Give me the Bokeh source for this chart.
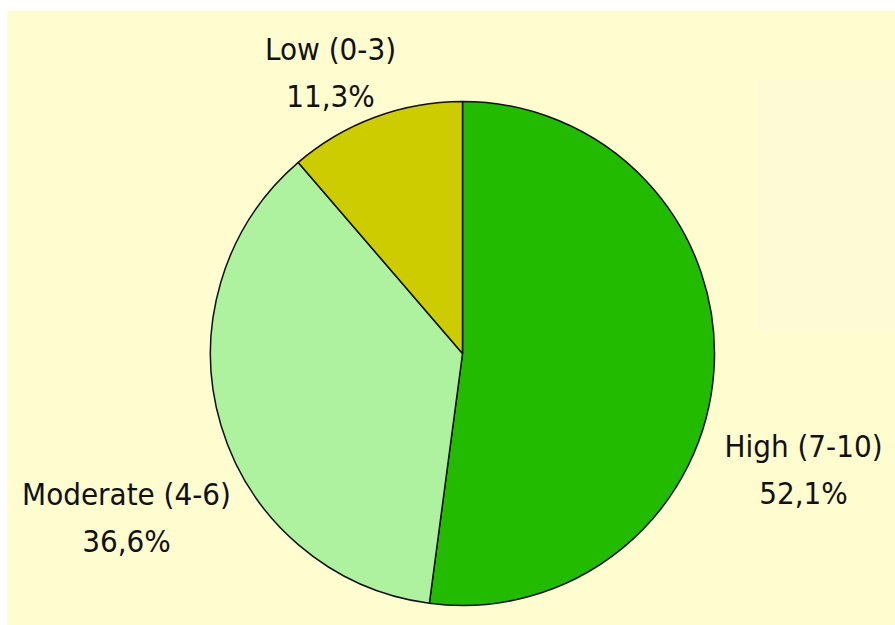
import math
from bokeh.plotting import figure
from bokeh.models import Range1d, ColumnDataSource
from bokeh.core.properties import value
from bokeh.embed import file_html
from bokeh.resources import INLINE

# ---- data ----
categories = ["High (7-10)", "Moderate (4-6)", "Low (0-3)"]
shares = [52.1, 36.6, 11.3]
pct_labels = ["52,1%", "36,6%", "11,3%"]
colors = ["#22BB00", "#AEF2A0", "#CCCC00"]

# ---- layout (pixel space, y measured downward from top of window) ----
W, H = 895, 625
LEFT, TOP = 7, 10
CX, CY, R = 462, 353, 252
label_pos = {"High (7-10)": (803, 445), "Moderate (4-6)": (126, 493), "Low (0-3)": (330, 48)}
LINE_GAP = 47
FONT = value("DejaVu Sans Condensed, Noto Sans, sans-serif")

def ty(y_pix):
    return H - y_pix

p = figure(width=W, height=H, output_backend="svg", toolbar_location=None,
           x_range=Range1d(LEFT, W), y_range=Range1d(0, H - TOP),
           x_axis_location=None, y_axis_location=None,
           min_border_left=LEFT, min_border_top=TOP, min_border_right=0, min_border_bottom=0)
p.grid.visible = False
p.outline_line_color = None
p.background_fill_color = "#FFFCD0"
p.border_fill_color = "#FFFFFF"

# faint lighter panel at right
p.quad(left=[757], right=[W], bottom=[ty(330)], top=[ty(78)], fill_color="#FFFAD6",
       line_color=None)

total = sum(shares)
starts, ends = [], []
cum = 0.0
for s in shares:
    starts.append(math.pi / 2 - 2 * math.pi * cum / total)
    cum += s
    ends.append(math.pi / 2 - 2 * math.pi * cum / total)

src = ColumnDataSource(dict(cat=categories, start=starts, end=ends, color=colors))
p.wedge(x=CX, y=ty(CY), radius=R, start_angle="start", end_angle="end", direction="clock",
        fill_color="color", line_color="#111111", line_width=1.5, source=src)

lx = [label_pos[c][0] for c in categories]
ly1 = [ty(label_pos[c][1]) for c in categories]
ly2 = [ty(label_pos[c][1] + LINE_GAP) for c in categories]
p.text(x=lx, y=ly1, text=categories, text_align="center", text_baseline="alphabetic",
       text_font=FONT, text_font_size="31px", text_color="#111111")
p.text(x=lx, y=ly2, text=pct_labels, text_align="center", text_baseline="alphabetic",
       text_font=FONT, text_font_size="31px", text_color="#111111")

open("out.html", "w").write(file_html(p, INLINE))
